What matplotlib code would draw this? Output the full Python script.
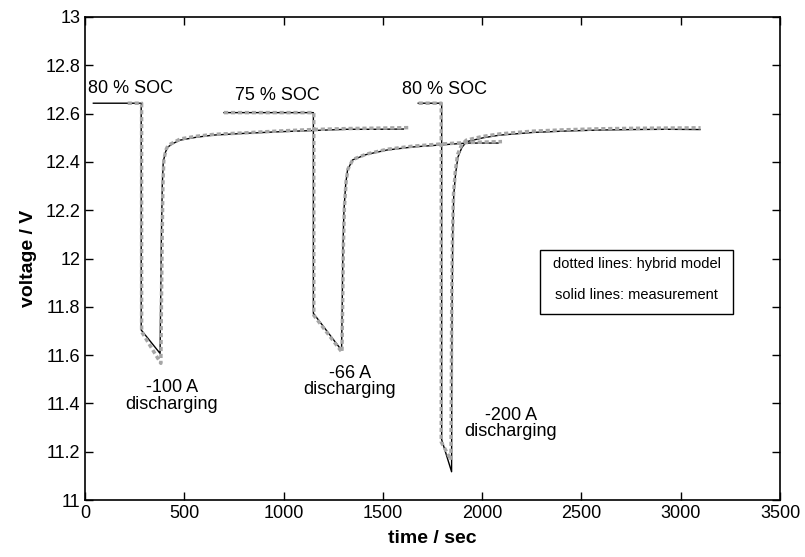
import matplotlib
matplotlib.use("Agg")
import matplotlib.pyplot as plt
from matplotlib.ticker import MultipleLocator, FuncFormatter
from matplotlib.patches import Rectangle

plt.rcParams['font.family'] = ['Liberation Sans', 'DejaVu Sans']

t_meas1 = [42, 283, 283, 378, 380, 384, 389, 394, 405, 415, 440, 478, 560, 646, 800, 982, 1150, 1318, 1450, 1603]
v_meas1 = [12.643, 12.643, 11.704, 11.607, 11.75, 12.05, 12.30, 12.40, 12.44, 12.46, 12.475, 12.49, 12.502,
           12.511, 12.518, 12.525, 12.53, 12.535, 12.535, 12.536]
t_meas2 = [700, 1150, 1150, 1292, 1295, 1299, 1304, 1313, 1322, 1347, 1414, 1519, 1653, 1788, 1922, 2080]
v_meas2 = [12.604, 12.604, 11.773, 11.62, 11.80, 12.05, 12.20, 12.31, 12.366, 12.408, 12.43, 12.449,
           12.462, 12.47, 12.478, 12.478]
t_meas3 = [1678, 1796, 1796, 1846, 1847, 1849, 1852, 1857, 1866, 1878, 1898, 1922, 2006, 2090, 2257, 2425,
           2593, 2761, 2929, 3097]
v_meas3 = [12.643, 12.643, 11.25, 11.117, 11.50, 11.85, 12.10, 12.264, 12.35, 12.42, 12.46, 12.484, 12.50,
           12.511, 12.522, 12.528, 12.532, 12.534, 12.535, 12.534]

# hybrid model (dotted grey)
t_mod1 = [215, 285, 285, 382, 384, 388, 392, 397, 408, 418, 445, 480, 560, 650, 800, 980, 1150, 1320, 1500, 1640]
v_mod1 = [12.643, 12.643, 11.697, 11.566, 11.75, 12.05, 12.30, 12.41, 12.45, 12.468, 12.48, 12.495, 12.506,
          12.514, 12.52, 12.528, 12.534, 12.538, 12.54, 12.542]
t_mod2 = [700, 1152, 1152, 1294, 1297, 1301, 1306, 1315, 1324, 1349, 1416, 1520, 1650, 1790, 1920, 2100]
v_mod2 = [12.604, 12.604, 11.765, 11.612, 11.80, 12.05, 12.21, 12.32, 12.37, 12.41, 12.432, 12.452,
          12.465, 12.474, 12.48, 12.484]
t_mod3 = [1680, 1794, 1794, 1843, 1845, 1847, 1851, 1856, 1865, 1876, 1896, 1920, 2000, 2090, 2250, 2420,
          2590, 2760, 2930, 3100]
v_mod3 = [12.643, 12.643, 11.24, 11.166, 11.50, 11.85, 12.11, 12.27, 12.36, 12.43, 12.47, 12.49, 12.505,
          12.516, 12.527, 12.533, 12.537, 12.539, 12.54, 12.541]

fig = plt.figure(figsize=(8.05, 5.57), dpi=100)
ax = fig.add_axes([0.1056, 0.1023, 0.8634, 0.8672])

for t, v in [(t_meas1, v_meas1), (t_meas2, v_meas2), (t_meas3, v_meas3)]:
    ax.plot(t, v, color='black', lw=1.0, zorder=2)
for t, v in [(t_mod1, v_mod1), (t_mod2, v_mod2), (t_mod3, v_mod3)]:
    ax.plot(t, v, color='#a6a6a6', lw=2.5, linestyle=(0, (1.2, 0.8)), zorder=3)

fs = 13
ax.text(15, 12.705, '80 % SOC', fontsize=fs, ha='left', va='center')
ax.text(971, 12.673, '75 % SOC', fontsize=fs, ha='center', va='center')
ax.text(1808, 12.698, '80 % SOC', fontsize=fs, ha='center', va='center')
ax.text(436, 11.43, '-100 A\ndischarging', fontsize=fs, ha='center', va='center', linespacing=0.95)
ax.text(1334, 11.49, '-66 A\ndischarging', fontsize=fs, ha='center', va='center', linespacing=0.95)
ax.text(2144, 11.317, '-200 A\ndischarging', fontsize=fs, ha='center', va='center', linespacing=0.95)

# note box
ax.add_patch(Rectangle((0.6547, 0.385), 0.2781, 0.1326, transform=ax.transAxes,
                       fill=False, edgecolor='black', lw=1.0))
ax.text(0.7938, 0.4886, 'dotted lines: hybrid model', transform=ax.transAxes,
        fontsize=10.5, ha='center', va='center')
ax.text(0.7938, 0.4244, 'solid lines: measurement', transform=ax.transAxes,
        fontsize=10.5, ha='center', va='center')

ax.set_xlim(0, 3500)
ax.set_ylim(11, 13)
ax.xaxis.set_major_locator(MultipleLocator(500))
ax.yaxis.set_major_locator(MultipleLocator(0.2))
ax.yaxis.set_major_formatter(FuncFormatter(lambda v, p: '%g' % round(v, 1)))
ax.tick_params(direction='in', length=6, width=1, labelsize=fs, top=True, right=True)
for s in ax.spines.values():
    s.set_linewidth(1.2)

ax.set_xlabel('time / sec', fontsize=14, fontweight='bold', labelpad=6)
ax.set_ylabel('voltage / V', fontsize=14, fontweight='bold', labelpad=6)

fig.savefig('out.png', dpi=100)
